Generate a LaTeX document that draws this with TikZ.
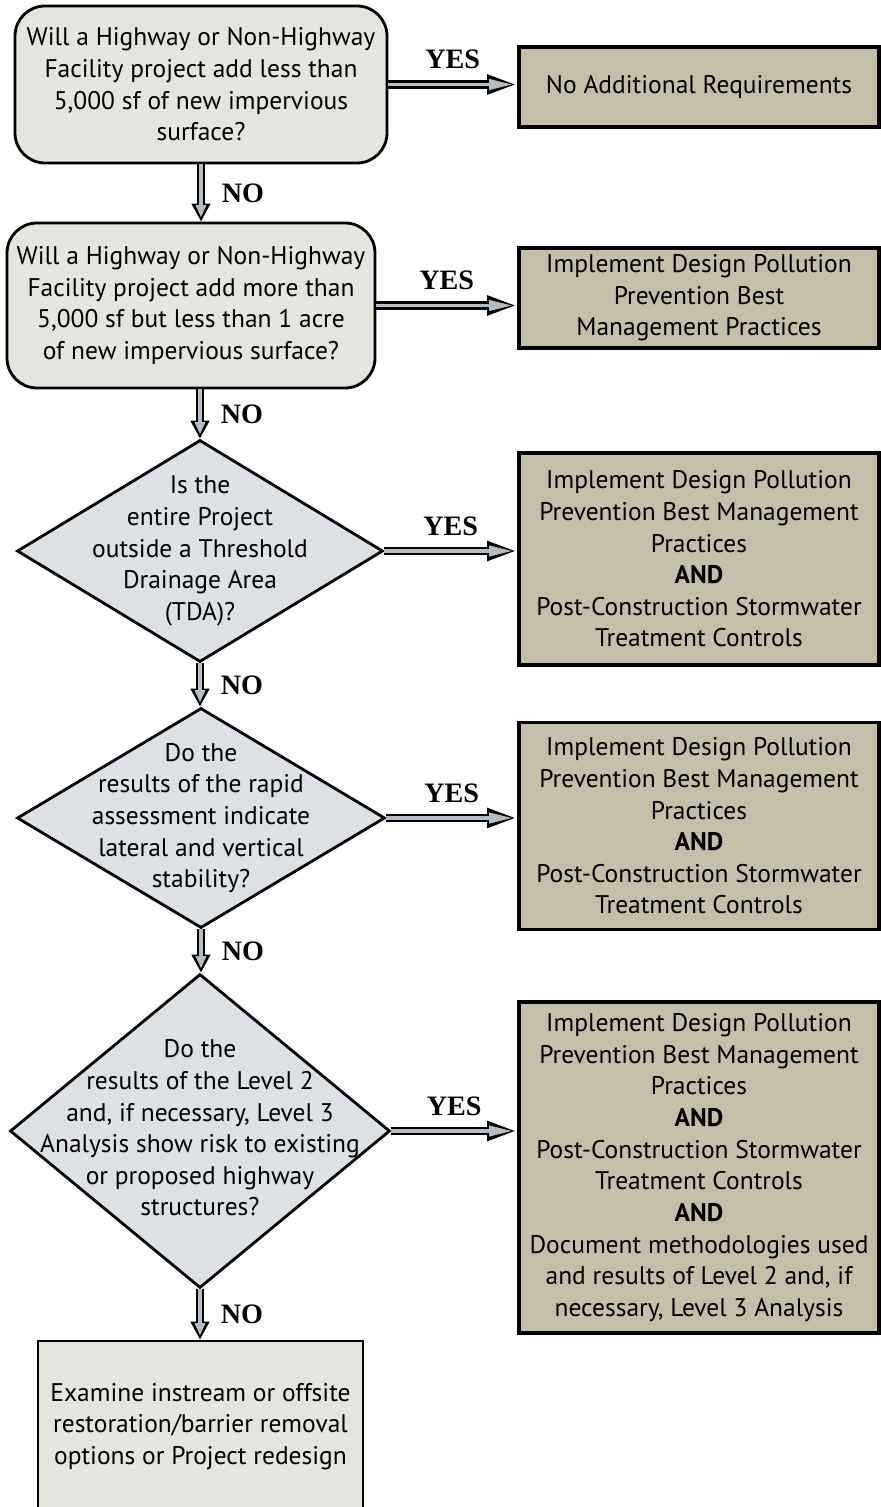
\documentclass[tikz,border=0pt]{standalone}
\usepackage{fontspec}
\setmainfont{PT Sans}
\newfontfamily\answerfont{Liberation Serif}
\usepackage{xcolor}
\usepackage{tikz}
\usetikzlibrary{shapes.geometric, arrows.meta, positioning}
\definecolor{questiongray}{RGB}{230, 228, 223}
\definecolor{decisionblue}{RGB}{221, 224, 229}
\definecolor{outcometan}{RGB}{197, 191, 170}
\definecolor{arrowsteel}{RGB}{180, 188, 196}

\begin{document}
\begin{tikzpicture}[
    question/.style={rectangle, rounded corners=0.6cm, draw=black, line width=1.6pt, fill=questiongray, align=center, font=\fontsize{14.5}{18}\selectfont, inner sep=0pt},
    decision/.style={diamond, draw=black, line width=1.6pt, fill=decisionblue, inner sep=0pt},
    qtext/.style={align=center, font=\fontsize{14.5}{18}\selectfont},
    outcome/.style={rectangle, draw=black, line width=2.2pt, fill=outcometan, align=center, font=\fontsize{14.5}{18}\selectfont, minimum width=7.2cm, inner sep=0pt},
    answer/.style={font=\answerfont\fontsize{16}{18}\selectfont\bfseries},
    hflow/.style={draw=black, line width=5pt, -{Triangle[length=0.6cm, width=0.36cm]},
        postaction={draw=arrowsteel, line width=2.2pt, -{Triangle[length=0.48cm, width=0.2cm]}, shorten >=0.08cm}},
    vflow/.style={draw=black, line width=5pt, -{Triangle[length=0.36cm, width=0.36cm]},
        postaction={draw=arrowsteel, line width=2.2pt, -{Triangle[length=0.25cm, width=0.2cm]}, shorten >=0.08cm}}
]
\fill[white] (0,0) rectangle (17.6,-30.14);
\useasboundingbox (0,0) rectangle (17.6,-30.14);

% Questions
\node[question, minimum width=7.44cm, minimum height=3.14cm] (q1) at (4.02,-1.69) {Will a Highway or Non-Highway\\Facility project add less than\\5,000 sf of new impervious\\surface?};
\node[question, minimum width=7.36cm, minimum height=3.3cm] (q2) at (3.82,-6.11) {Will a Highway or Non-Highway\\Facility project add more than\\5,000 sf but less than 1 acre\\of new impervious surface?};

% Decisions
\node[decision, minimum width=7.32cm, minimum height=4.44cm] (d1) at (4.0,-11.02) {};
\node[qtext] (d1t) at (d1) {Is the\\entire Project\\outside a Threshold\\Drainage Area\\(TDA)?};
\node[decision, minimum width=7.36cm, minimum height=4.4cm] (d2) at (4.02,-16.36) {};
\node[qtext] (d2t) at (d2) {Do the\\results of the rapid\\assessment indicate\\lateral and vertical\\stability?};
\node[decision, minimum width=7.6cm, minimum height=6.28cm] (d3) at (4.0,-22.62) {};
\node[qtext] (d3t) at ([yshift=0.06cm]d3) {Do the\\results of the Level 2\\and, if necessary, Level 3\\Analysis show risk to existing\\or proposed highway\\structures?};

% Last resort
\node[question, rounded corners=0pt, minimum width=6.5cm, minimum height=3.42cm] (final) at (4.01,-28.53) {Examine instream or offsite\\restoration/barrier removal\\options or Project redesign};

% Outcomes
\node[outcome, minimum height=1.6cm] (r1) at (13.98,-1.74) {No Additional Requirements};
\node[outcome, minimum height=2.0cm] (r2) at (13.98,-5.96) {Implement Design Pollution\\Prevention Best\\Management Practices};
\node[outcome, minimum height=4.24cm] (r3) at (13.98,-11.18) {Implement Design Pollution\\Prevention Best Management\\Practices\\\textbf{AND}\\Post-Construction Stormwater\\Treatment Controls};
\node[outcome, minimum height=4.14cm] (r4) at (13.98,-16.52) {Implement Design Pollution\\Prevention Best Management\\Practices\\\textbf{AND}\\Post-Construction Stormwater\\Treatment Controls};
\node[outcome, minimum height=6.62cm] (r5) at (13.98,-23.35) {Implement Design Pollution\\Prevention Best Management\\Practices\\\textbf{AND}\\Post-Construction Stormwater\\Treatment Controls\\\textbf{AND}\\Document methodologies used\\and results of Level 2 and, if\\necessary, Level 3 Analysis};

% YES arrows
\draw[hflow] (q1.east) -- node[answer, above=3pt] {YES} (q1.east -| r1.west);
\draw[hflow] (q2.east) -- node[answer, above=3pt] {YES} (q2.east -| r2.west);
\draw[hflow] (d1.east) -- node[answer, above=3pt] {YES} (d1.east -| r3.west);
\draw[hflow] (d2.east) -- node[answer, above=3pt] {YES} (d2.east -| r4.west);
\draw[hflow] (d3.east) -- node[answer, above=3pt] {YES} (d3.east -| r5.west);

% NO arrows
\draw[vflow] (q1.south) -- node[answer, right=6pt] {NO} (q1.south |- q2.north);
\draw[vflow] (d1.north |- q2.south) -- node[answer, right=6pt] {NO} (d1.north);
\draw[vflow] (d1.south) -- node[answer, right=6pt] {NO} (d1.south |- d2.north);
\draw[vflow] (d2.south) -- node[answer, right=6pt] {NO} (d2.south |- d3.north);
\draw[vflow] (d3.south) -- node[answer, right=6pt] {NO} (d3.south |- final.north);
\end{tikzpicture}
\end{document}
